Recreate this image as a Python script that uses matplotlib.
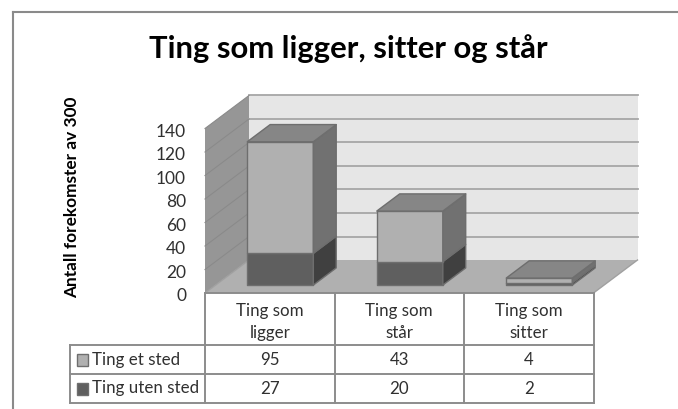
import matplotlib
matplotlib.use('Agg')
from matplotlib import pyplot as plt
from matplotlib.patches import Polygon, Rectangle
import numpy as np

title = 'Ting som ligger, sitter og står'
ylabel = 'Antall forekomster av 300'
categories = ['Ting som\nligger', 'Ting som\nstår', 'Ting som\nsitter']
series_names = ['Ting et sted', 'Ting uten sted']
ting_et_sted = [95, 43, 4]
ting_uten_sted = [27, 20, 2]
yticks = [0, 20, 40, 60, 80, 100, 120, 140]

W, H = 678, 409
# pixel position of the front plane of the plot
X0, CAT_W, Y0, PX_PER_UNIT = 205, 129.5, 293, 1.175
# how far the back wall is shifted, in data units
DEPTH_X = 44 / CAT_W
DEPTH_Y = 33 / PX_PER_UNIT

plt.rcParams['font.family'] = ['Lato', 'DejaVu Sans']
fig = plt.figure(figsize=(W / 100, H / 100), dpi=100)

# data axes: x in categories, y in counts
ax = fig.add_axes([0, 0, 1, 1])
ax.set_xlim(-X0 / CAT_W, (W - X0) / CAT_W)
ax.set_ylim((Y0 - H) / PX_PER_UNIT, Y0 / PX_PER_UNIT)
ax.axis('off')

# overlay in pixels for the frame and the data table
px = fig.add_axes([0, 0, 1, 1])
px.set_xlim(0, W)
px.set_ylim(H, 0)
px.axis('off')
px.patch.set_alpha(0)

EDGE = '#6e6e6e'
TEXT = '#303030'


def shift(x, y, d):
    return (x + d * DEPTH_X, y + d * DEPTH_Y)


def quad(points, color, edge=EDGE, lw=1.0, z=2):
    ax.add_patch(Polygon(points, closed=True, facecolor=color, edgecolor=edge,
                         linewidth=lw, joinstyle='round', zorder=z))


n = len(categories)
top = max(yticks)

# back wall, side wall, floor
quad([shift(0, 0, 1), shift(n, 0, 1), shift(n, top, 1), shift(0, top, 1)], '#e6e6e6', 'none', z=1)
quad([(0, 0), shift(0, 0, 1), shift(0, top, 1), (0, top)], '#969696', 'none', z=1)
quad([(0, 0), (n, 0), shift(n, 0, 1), shift(0, 0, 1)], '#b0b0b0', 'none', z=1)

for v in yticks[1:]:
    xs = [0, shift(0, v, 1)[0], shift(n, v, 1)[0]]
    ys = [v, shift(0, v, 1)[1], shift(n, v, 1)[1]]
    ax.plot(xs[1:], ys[1:], color='#a6a6a6', lw=1.3, zorder=1.5)
    ax.plot(xs[:2], ys[:2], color='#8a8a8a', lw=0.8, zorder=1.5)
ax.plot([n, shift(n, 0, 1)[0]], [0, shift(n, 0, 1)[1]], color='#a0a0a0', lw=1.0, zorder=1.5)
ax.plot([0, shift(0, 0, 1)[0]], [0, shift(0, 0, 1)[1]], color='#a0a0a0', lw=1.0, zorder=1.5)

# stacked boxes
BAR_W = 0.51
D_FRONT, D_BACK = 0.24, 0.76


def box(i, low, high, front, side, z):
    x0 = i + 0.5 - BAR_W / 2
    x1 = i + 0.5 + BAR_W / 2
    a = shift(x0, low, D_FRONT)
    b = shift(x1, low, D_FRONT)
    c = shift(x1, high, D_FRONT)
    d = shift(x0, high, D_FRONT)
    quad([a, b, c, d], front, z=z)
    quad([b, shift(x1, low, D_BACK), shift(x1, high, D_BACK), c], side, z=z)


for i in range(n):
    low = ting_uten_sted[i]
    high = low + ting_et_sted[i]
    box(i, 0, low, '#5f5f5f', '#404040', 3 + i)
    box(i, low, high, '#b0b0b0', '#717171', 3.1 + i)
    x0 = i + 0.5 - BAR_W / 2
    x1 = i + 0.5 + BAR_W / 2
    quad([shift(x0, high, D_FRONT), shift(x1, high, D_FRONT),
          shift(x1, high, D_BACK), shift(x0, high, D_BACK)], '#868686', z=3.2 + i)

# y tick labels
for v in yticks:
    ax.text(-19 / CAT_W, v - 2.6, str(v), ha='right', va='center', fontsize=12.5, color=TEXT)

# chart frame
px.plot([13, 13], [H, 11.5], color='#8a8a8a', lw=1.5)
px.plot([13, W], [11.5, 11.5], color='#8a8a8a', lw=1.5)

px.text(348.5, 49, title, ha='center', va='center', fontsize=22.3, fontweight='bold', color='black')
px.text(72, 197, ylabel, ha='center', va='center', rotation=90, fontsize=12.4, fontweight='bold', color='black')

# data table
col_x = [X0 + CAT_W * i for i in range(n + 1)]
rows_y = [293, 345, 374, 403]
GRID = '#8c8c8c'
LW = 1.4
for x in col_x:
    px.plot([x, x], [rows_y[0], rows_y[-1]], color=GRID, lw=LW)
px.plot([col_x[0], col_x[-1]], [rows_y[0], rows_y[0]], color=GRID, lw=LW)
for y in rows_y[1:]:
    px.plot([70, col_x[-1]], [y, y], color=GRID, lw=LW)
px.plot([70, 70], [rows_y[1], rows_y[-1]], color=GRID, lw=LW)

for i in range(n):
    cx = (col_x[i] + col_x[i + 1]) / 2
    px.text(cx, 322, categories[i], ha='center', va='center', fontsize=12.2,
            color=TEXT, linespacing=1.45)
    px.text(cx, 360, str(ting_et_sted[i]), ha='center', va='center', fontsize=12.2, color=TEXT)
    px.text(cx, 389, str(ting_uten_sted[i]), ha='center', va='center', fontsize=12.2, color=TEXT)

for name, y, color in zip(series_names, [360, 389], ['#b0b0b0', '#5f5f5f']):
    px.add_patch(Rectangle((76.5, y - 6), 11.5, 11.5, facecolor=color, edgecolor=EDGE, lw=1.0))
    px.text(92, y - 0.5, name, ha='left', va='center', fontsize=12.2, color=TEXT)

fig.savefig('out.png', dpi=100)
